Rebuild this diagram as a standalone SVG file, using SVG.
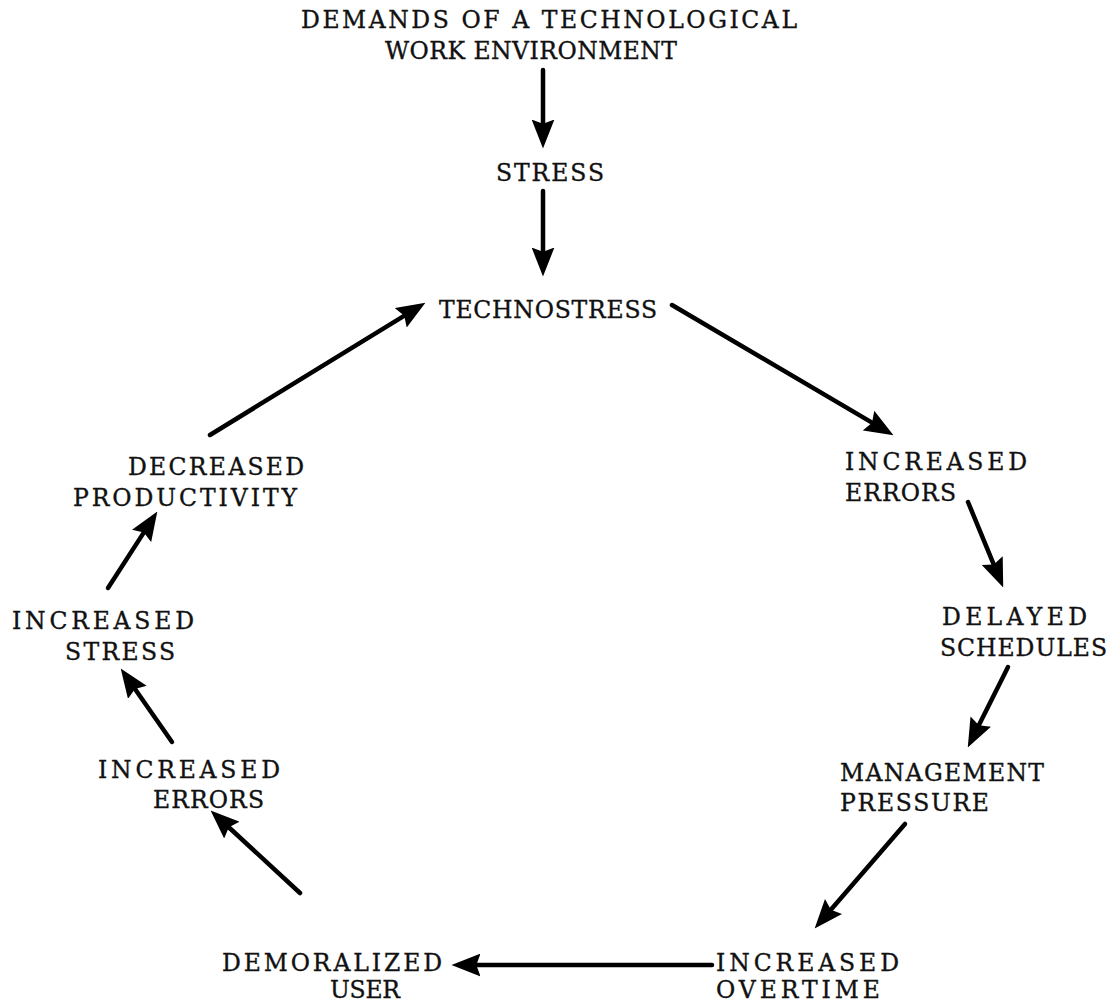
<svg xmlns="http://www.w3.org/2000/svg" width="1109" height="1003" viewBox="0 0 1109 1003">
<style>
.t{font-family:"DejaVu Serif","Liberation Serif",serif;font-size:23.5px;fill:#111;stroke:#111;stroke-width:0.35}
.c{stroke:#000;stroke-width:4.5;fill:none;stroke-linecap:round}
</style>
<defs>
<marker id="ah" viewBox="0 0 28 22" refX="13" refY="11" markerWidth="29" markerHeight="23" markerUnits="userSpaceOnUse" orient="auto">
<path d="M0,0 L28,11 L0,22 L4,11 z" fill="#000"/>
</marker>
</defs>
<rect width="1109" height="1003" fill="#fff"/>
<g id="connectors" class="c" marker-end="url(#ah)">
<line x1="543" y1="70" x2="543" y2="133"/>
<line x1="543" y1="191" x2="543" y2="261"/>
<line x1="672" y1="305" x2="880.1" y2="427.4"/>
<line x1="968" y1="502" x2="997.3" y2="573.1"/>
<line x1="1008" y1="667" x2="974.7" y2="733.6"/>
<line x1="905" y1="824" x2="824.8" y2="916.7"/>
<line x1="712" y1="965" x2="467" y2="965"/>
<line x1="300" y1="893" x2="222" y2="821"/>
<line x1="172" y1="742" x2="129.6" y2="681.3"/>
<line x1="108" y1="588" x2="148.9" y2="524.6"/>
<line x1="210" y1="435" x2="412.2" y2="310.8"/>
</g>
<g id="demands" class="t">
<text x="301" y="28" textLength="496" lengthAdjust="spacing">DEMANDS OF A TECHNOLOGICAL</text>
<text x="385" y="59" textLength="292" lengthAdjust="spacing">WORK ENVIRONMENT</text>
</g>
<g id="stress" class="t"><text x="496" y="181" textLength="108" lengthAdjust="spacing">STRESS</text></g>
<g id="technostress" class="t"><text x="439" y="318" textLength="218" lengthAdjust="spacing">TECHNOSTRESS</text></g>
<g id="increased-errors-1" class="t">
<text x="845" y="470" textLength="182" lengthAdjust="spacing">INCREASED</text>
<text x="845" y="501" textLength="111" lengthAdjust="spacing">ERRORS</text>
</g>
<g id="delayed-schedules" class="t">
<text x="942" y="625" textLength="145" lengthAdjust="spacing">DELAYED</text>
<text x="940" y="656" textLength="167" lengthAdjust="spacing">SCHEDULES</text>
</g>
<g id="management-pressure" class="t">
<text x="840" y="781" textLength="204" lengthAdjust="spacing">MANAGEMENT</text>
<text x="840" y="811" textLength="149" lengthAdjust="spacing">PRESSURE</text>
</g>
<g id="increased-overtime" class="t">
<text x="716" y="971" textLength="183" lengthAdjust="spacing">INCREASED</text>
<text x="716" y="998" textLength="164" lengthAdjust="spacing">OVERTIME</text>
</g>
<g id="demoralized-user" class="t">
<text x="222" y="971" textLength="220" lengthAdjust="spacing">DEMORALIZED</text>
<text x="330" y="998" textLength="70" lengthAdjust="spacing">USER</text>
</g>
<g id="increased-errors-2" class="t">
<text x="98" y="778" textLength="182" lengthAdjust="spacing">INCREASED</text>
<text x="153" y="808" textLength="111" lengthAdjust="spacing">ERRORS</text>
</g>
<g id="increased-stress" class="t">
<text x="12" y="629" textLength="182" lengthAdjust="spacing">INCREASED</text>
<text x="65" y="660" textLength="110" lengthAdjust="spacing">STRESS</text>
</g>
<g id="decreased-productivity" class="t">
<text x="128" y="475" textLength="176" lengthAdjust="spacing">DECREASED</text>
<text x="73" y="506" textLength="224" lengthAdjust="spacing">PRODUCTIVITY</text>
</g>
</svg>
